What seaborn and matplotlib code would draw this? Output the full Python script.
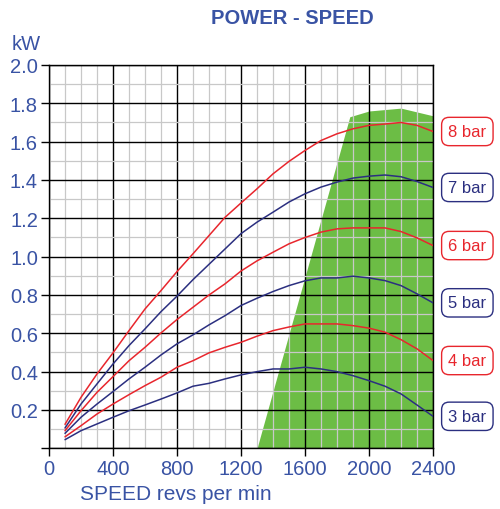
import pandas as pd
import matplotlib.pyplot as plt
import seaborn as sns
from matplotlib.ticker import MultipleLocator

# motor speed, revs per min
rpm = [100, 200, 300, 400, 500, 600, 700, 800, 900, 1000, 1100, 1200,
       1300, 1400, 1500, 1600, 1700, 1800, 1900, 2000, 2100, 2200, 2300, 2400]

# power output in kW for each supply pressure
kw_8bar = [0.125, 0.266, 0.388, 0.498, 0.614, 0.727, 0.823, 0.922, 1.015, 1.11, 1.205, 1.28,
           1.354, 1.432, 1.497, 1.554, 1.606, 1.641, 1.667, 1.685, 1.692, 1.70, 1.685, 1.653]
kw_7bar = [0.106, 0.231, 0.336, 0.44, 0.536, 0.623, 0.713, 0.794, 0.88, 0.96, 1.04, 1.12,
           1.18, 1.232, 1.285, 1.328, 1.363, 1.389, 1.41, 1.42, 1.426, 1.417, 1.392, 1.361]
kw_6bar = [0.092, 0.196, 0.292, 0.374, 0.457, 0.527, 0.602, 0.672, 0.736, 0.80, 0.858, 0.925,
           0.978, 1.023, 1.067, 1.10, 1.128, 1.145, 1.15, 1.15, 1.15, 1.131, 1.098, 1.058]
kw_5bar = [0.078, 0.162, 0.231, 0.296, 0.362, 0.423, 0.487, 0.545, 0.592, 0.644, 0.692, 0.745,
           0.783, 0.818, 0.849, 0.874, 0.889, 0.889, 0.898, 0.889, 0.875, 0.849, 0.806, 0.759]
kw_4bar = [0.06, 0.118, 0.179, 0.231, 0.28, 0.327, 0.371, 0.423, 0.457, 0.498, 0.527, 0.553,
           0.585, 0.614, 0.633, 0.649, 0.649, 0.649, 0.64, 0.627, 0.606, 0.567, 0.519, 0.458]
kw_3bar = [0.045, 0.092, 0.127, 0.162, 0.196, 0.226, 0.257, 0.289, 0.324, 0.339, 0.362, 0.383,
           0.40, 0.414, 0.414, 0.423, 0.414, 0.40, 0.379, 0.353, 0.324, 0.284, 0.226, 0.167]

pressures = ["8 bar", "7 bar", "6 bar", "5 bar", "4 bar", "3 bar"]
series = [kw_8bar, kw_7bar, kw_6bar, kw_5bar, kw_4bar, kw_3bar]

# recommended operating zone (green area)
zone_rpm = [1300, 1880, 2000, 2200, 2400]
zone_kw = [0.0, 1.73, 1.76, 1.775, 1.735]

RED = "#e8262d"
NAVY = "#2b2f80"
BLUE = "#3953a4"
GREEN = "#6cbd45"
palette = {p: (RED if i % 2 == 0 else NAVY) for i, p in enumerate(pressures)}

df = pd.concat([pd.DataFrame({"rpm": rpm, "kw": vals, "pressure": p})
                for p, vals in zip(pressures, series)], ignore_index=True)

sns.set_style("white")
plt.rcParams["font.family"] = ["Liberation Sans", "DejaVu Sans"]

fig = plt.figure(figsize=(5, 5.1), dpi=100)
ax = fig.add_axes([0.098, 0.119, 0.768, 0.7516])

ax.fill_between(zone_rpm, 0, zone_kw, color=GREEN, lw=0, zorder=1)
sns.lineplot(data=df, x="rpm", y="kw", hue="pressure", palette=palette,
             linewidth=1.1, legend=False, ax=ax, zorder=3)

ax.set_xlim(0, 2400)
ax.set_ylim(0, 2.0)
ax.xaxis.set_major_locator(MultipleLocator(400))
ax.xaxis.set_minor_locator(MultipleLocator(100))
ax.yaxis.set_major_locator(MultipleLocator(0.2))
ax.yaxis.set_minor_locator(MultipleLocator(0.1))
ax.set_yticks([i * 0.2 for i in range(11)])
ax.set_yticklabels([""] + [f"{i * 0.2:.1f}" for i in range(1, 11)])

ax.set_axisbelow("line")
ax.grid(which="minor", color="#c8c8c8", lw=0.9)
ax.grid(which="major", color="black", lw=1.0)

ax.tick_params(which="major", direction="out", length=6, width=1, color="black",
               labelsize=14.5, labelcolor=BLUE, bottom=True, left=True, pad=2)
ax.tick_params(which="minor", length=0)
for s in ax.spines.values():
    s.set_color("black")
    s.set_linewidth(1.0)

ax.set_xlabel("")
ax.set_ylabel("")

# pressure labels at the curve ends
for p, vals in zip(pressures, series):
    c = palette[p]
    ax.annotate(p, xy=(rpm[-1], vals[-1]), xytext=(11, 0), textcoords="offset points",
                ha="left", va="center", fontsize=12, color=c, annotation_clip=False,
                bbox=dict(boxstyle="round,pad=0.4,rounding_size=0.45", fc="white", ec=c, lw=1.0))

fig.text(0.584, 1 - 19 / 510, "POWER - SPEED", ha="center", va="center",
         fontsize=14.5, fontweight="bold", color=BLUE)
fig.text(0.052, 1 - 45 / 510, "kW", ha="center", va="center", fontsize=14.5, color=BLUE)
fig.text(0.352, 1 - 495 / 510, "SPEED revs per min", ha="center", va="center",
         fontsize=15, color=BLUE)

fig.savefig("out.png", dpi=100)
